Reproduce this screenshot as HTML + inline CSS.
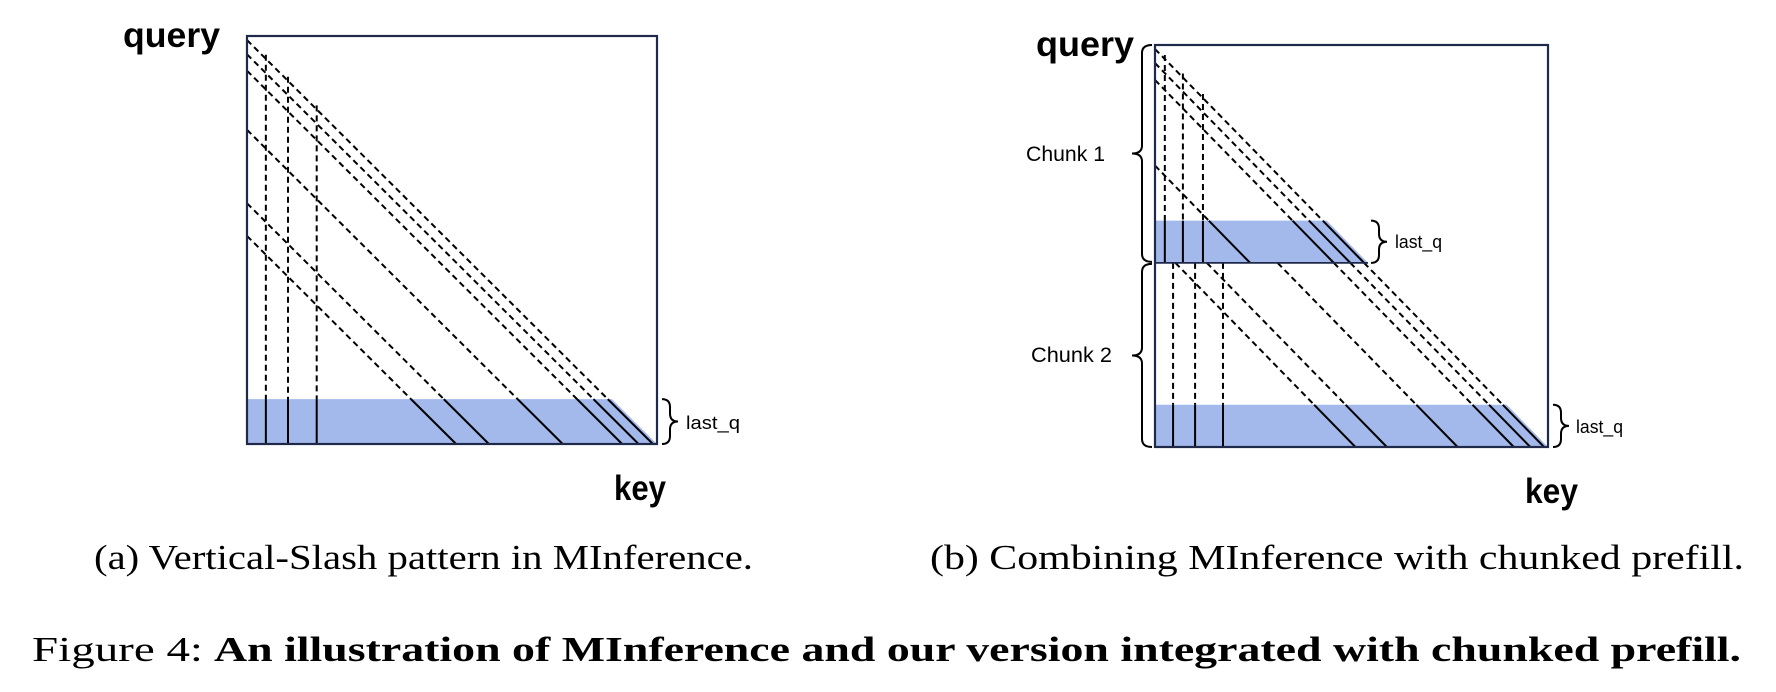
<!DOCTYPE html>
<html><head><meta charset="utf-8"><style>
html,body{margin:0;padding:0;background:#fff;}
svg{display:block;}
</style></head><body>
<svg id="fig" width="1776" height="692" viewBox="0 0 1776 692" xmlns="http://www.w3.org/2000/svg">
<g id="layer"></g>
<text x="123" y="47" font-family="Liberation Sans, sans-serif" font-weight="bold" font-size="35" textLength="97" lengthAdjust="spacingAndGlyphs">query</text>
<text x="614" y="500" font-family="Liberation Sans, sans-serif" font-weight="bold" font-size="35" textLength="52" lengthAdjust="spacingAndGlyphs">key</text>
<text x="1036" y="56" font-family="Liberation Sans, sans-serif" font-weight="bold" font-size="35" textLength="98" lengthAdjust="spacingAndGlyphs">query</text>
<text x="1525" y="503" font-family="Liberation Sans, sans-serif" font-weight="bold" font-size="35" textLength="53" lengthAdjust="spacingAndGlyphs">key</text>
<text x="686" y="429" font-family="Liberation Sans, sans-serif" font-size="18" textLength="54" lengthAdjust="spacingAndGlyphs">last_q</text>
<text x="1395" y="248" font-family="Liberation Sans, sans-serif" font-size="18" textLength="47" lengthAdjust="spacingAndGlyphs">last_q</text>
<text x="1576" y="433" font-family="Liberation Sans, sans-serif" font-size="18" textLength="47" lengthAdjust="spacingAndGlyphs">last_q</text>
<text x="1026" y="161" font-family="Liberation Sans, sans-serif" font-size="21" textLength="79" lengthAdjust="spacingAndGlyphs">Chunk 1</text>
<text x="1031" y="362" font-family="Liberation Sans, sans-serif" font-size="21" textLength="81" lengthAdjust="spacingAndGlyphs">Chunk 2</text>
<text x="94" y="569" font-family="Liberation Serif, serif" font-size="35" textLength="659" lengthAdjust="spacingAndGlyphs">(a) Vertical-Slash pattern in MInference.</text>
<text x="930" y="569" font-family="Liberation Serif, serif" font-size="35" textLength="814" lengthAdjust="spacingAndGlyphs">(b) Combining MInference with chunked prefill.</text>
<text x="32" y="661" font-family="Liberation Serif, serif" font-size="35" textLength="171" lengthAdjust="spacingAndGlyphs">Figure 4:</text>
<text x="214" y="661" font-family="Liberation Serif, serif" font-weight="bold" font-size="35" textLength="1527" lengthAdjust="spacingAndGlyphs">An illustration of MInference and our version integrated with chunked prefill.</text>
</svg>
<script>
// Panel (a): single sequence (values in % of sequence length)
const panelAVerticals = [4.6, 10, 17];
const panelASlashes = [1, 4.5, 8.5, 23, 41, 49];
const panelALastQ = 11;
// Panel (b): chunked prefill
const chunkBoundaries = [0, 54.2, 100];
const chunk1Verticals = [2.5, 7.1, 12.2];
const chunk2Verticals = [4.6, 10.2, 17.3];
const chunk1Slashes = [1, 4.5, 8.7, 30];
const chunk2Slashes = [1, 4.5, 8.7, 23, 41, 49];
const chunkLastQ = 10.5;

const NS = 'http://www.w3.org/2000/svg';
const layer = document.getElementById('layer');
function mk(tag, attrs) {
  const e = document.createElementNS(NS, tag);
  for (const k in attrs) e.setAttribute(k, attrs[k]);
  layer.appendChild(e);
  return e;
}
function axes(px, py, w, h) {
  return { x: k => px + k / 100 * w, y: q => py + q / 100 * h };
}
function line(ax, k1, q1, k2, q2, dashed, name) {
  const e = mk('line', { x1: ax.x(k1), y1: ax.y(q1), x2: ax.x(k2), y2: ax.y(q2),
    stroke: '#000', 'stroke-width': 2, 'stroke-dasharray': dashed ? '6 4' : 'none' });
  
  
}
function drawChunk(ax, r0, r1, lastQ, verts, slashes, prefix) {
  const b = r1 - lastQ;
  const band = mk('polygon', { points: [[0, b], [b, b], [r1, r1], [0, r1]].map(p => ax.x(p[0]) + ',' + ax.y(p[1])).join(' '), fill: '#a3b9eb' });
  
  
  verts.forEach((v, i) => {
    const s = Math.max(r0, v);
    if (s < b) line(ax, v, s, v, b, true, prefix + '-vertical-dashed-' + i);
    line(ax, v, Math.max(b, s), v, r1, false, prefix + '-vertical-solid-' + i);
  });
  slashes.forEach((d, i) => {
    const s = Math.max(r0, d);
    if (s < b) line(ax, s - d, s, b - d, b, true, prefix + '-slash-dashed-' + i);
    const s2 = Math.max(b, s);
    line(ax, s2 - d, s2, r1 - d, r1, false, prefix + '-slash-solid-' + i);
  });
}
function brace(x, y1, y2, dir, w, name) {
  const r = Math.min(8, (y2 - y1) / 4), ym = (y1 + y2) / 2, xm = x + dir * w / 2, xt = x + dir * w;
  const d = `M${x},${y1} Q${xm},${y1} ${xm},${y1 + r} L${xm},${ym - r} Q${xm},${ym} ${xt},${ym} Q${xm},${ym} ${xm},${ym + r} L${xm},${y2 - r} Q${xm},${y2} ${x},${y2}`;
  const e = mk('path', { d: d, fill: 'none', stroke: '#000', 'stroke-width': 2 });
  
  
}
function box(px, py, w, h, name) {
  const e = mk('rect', { x: px, y: py, width: w, height: h, fill: 'none', stroke: '#1f2a4a', 'stroke-width': 2.2 });
  
  
}

// Panel (a)
const A = axes(247, 36, 410, 408);
drawChunk(A, 0, 100, panelALastQ, panelAVerticals, panelASlashes, 'panel-a');
box(247, 36, 410, 408, 'panel-a-attention-matrix');
brace(662, A.y(100 - panelALastQ), A.y(100), 1, 16, 'panel-a-last-q-brace');

// Panel (b)
const B = axes(1155, 45, 393, 402);
drawChunk(B, chunkBoundaries[0], chunkBoundaries[1], chunkLastQ, chunk1Verticals, chunk1Slashes, 'chunk1');
drawChunk(B, chunkBoundaries[1], chunkBoundaries[2], chunkLastQ, chunk2Verticals, chunk2Slashes, 'chunk2');
const sep = mk('line', { x1: B.x(0), y1: B.y(chunkBoundaries[1]), x2: B.x(chunkBoundaries[1]), y2: B.y(chunkBoundaries[1]), stroke: '#1f2a4a', 'stroke-width': 1.8 });


box(1155, 45, 393, 402, 'panel-b-attention-matrix');
brace(B.x(chunkBoundaries[1]) + 3, B.y(chunkBoundaries[1] - chunkLastQ), B.y(chunkBoundaries[1]), 1, 16, 'chunk1-last-q-brace');
brace(1553, B.y(100 - chunkLastQ), B.y(100), 1, 16, 'chunk2-last-q-brace');
brace(1152, B.y(chunkBoundaries[0]), B.y(chunkBoundaries[1]) - 1, -1, 20, 'chunk1-brace');
brace(1152, B.y(chunkBoundaries[1]) + 1, B.y(chunkBoundaries[2]), -1, 20, 'chunk2-brace');
</script>
</body></html>
